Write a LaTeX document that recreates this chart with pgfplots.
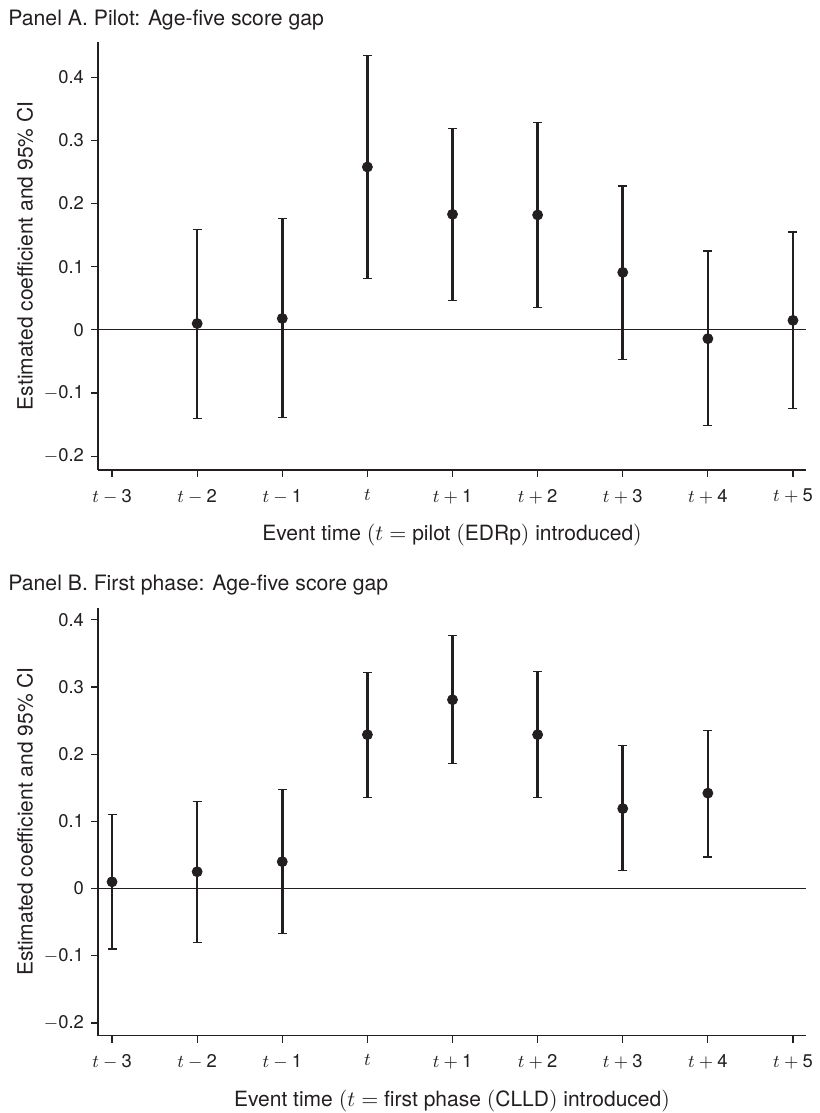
\documentclass[border=0pt]{standalone}
\usepackage{pgfplots}
\pgfplotsset{compat=1.18}
\usepackage{pgfplotstable}
\usepackage{fontspec}
\setmainfont{TeX Gyre Heros}
\definecolor{ink}{RGB}{35,31,32}

% event time, estimate, CI low, CI high
\pgfplotstableread{
x  y      lo      hi
-2  0.010 -0.141  0.159
-1  0.018 -0.139  0.176
0   0.258  0.081  0.435
1   0.183  0.046  0.319
2   0.182  0.036  0.328
3   0.091 -0.047  0.228
4  -0.014 -0.152  0.125
5   0.015 -0.124  0.155
}\pilot
\pgfplotstableread{
x  y      lo      hi
-3  0.010 -0.090  0.110
-2  0.025 -0.080  0.129
-1  0.040 -0.067  0.147
0   0.229  0.136  0.322
1   0.281  0.186  0.377
2   0.229  0.135  0.323
3   0.119  0.027  0.213
4   0.142  0.047  0.235
}\firstphase

\pgfplotsset{
  eventstyle/.style={
    scale only axis, anchor=south west,
    width=354pt, height=214pt,
    xmin=-3.165, xmax=5.153,
    axis x line*=bottom, axis y line*=left,
    axis line style={ink, line width=0.6pt},
    every tick/.style={ink, line width=0.6pt},
    tick align=outside, major tick length=3.5pt,
    xtick={-3,...,5},
    xticklabels={$t-\mbox{3}$,$t-\mbox{2}$,$t-\mbox{1}$,$t$,$t+\mbox{1}$,$t+\mbox{2}$,$t+\mbox{3}$,$t+\mbox{4}$,$t+\mbox{5}$},
    ytick={-0.2,-0.1,0,0.1,0.2,0.3,0.4},
    yticklabels={$-$0.2,$-$0.1,0,0.1,0.2,0.3,0.4},
    tick label style={font=\fontsize{9.2}{11}\selectfont, text=ink},
    xticklabel style={yshift=-2.5pt},
    label style={font=\fontsize{10.5}{12}\selectfont, text=ink},
    ylabel={Estimated coefficient and 95\% CI},
    ylabel style={at={(axis description cs:-0.103,0.5)}, anchor=center},
    xlabel style={at={(axis description cs:0.5,-0.152)}, anchor=center},
    clip=false,
  },
  ci/.style={
    ink, line width=1.3pt, only marks,
    mark=*, mark size=2.5pt, mark options={fill=ink, draw=ink, line width=0.4pt},
    error bars/.cd, y dir=both, y explicit,
    error bar style={ink, line width=1.3pt},
    error mark options={rotate=90, mark size=2.25pt, line width=0.6pt, ink},
  },
}

\begin{document}
\begin{tikzpicture}
\useasboundingbox (0,0) rectangle (409.5pt,556.5pt);

\node[anchor=west, font=\fontsize{10.6}{12}\selectfont, text=ink, inner sep=0pt] at (4pt,546.5pt) {Panel A. Pilot: Age-five score gap};
\begin{axis}[eventstyle, at={(49pt,321.5pt)}, ymin=-0.222, ymax=0.456,
  xlabel={Event time $(t=$ pilot $($EDRp$)$ introduced$)$}]
  \addplot[ink, line width=0.5pt] coordinates {(-3.165,0) (5.153,0)};
  \addplot[ci] table[x=x, y=y, y error plus expr=\thisrow{hi}-\thisrow{y}, y error minus expr=\thisrow{y}-\thisrow{lo}] {\pilot};
\end{axis}

\node[anchor=west, font=\fontsize{10.6}{12}\selectfont, text=ink, inner sep=0pt] at (4pt,264pt) {Panel B. First phase: Age-five score gap};
\begin{axis}[eventstyle, at={(49pt,38.65pt)}, ymin=-0.219, ymax=0.418,
  xlabel={Event time $(t=$ first phase $($CLLD$)$ introduced$)$}]
  \addplot[ink, line width=0.5pt] coordinates {(-3.165,0) (5.153,0)};
  \addplot[ci] table[x=x, y=y, y error plus expr=\thisrow{hi}-\thisrow{y}, y error minus expr=\thisrow{y}-\thisrow{lo}] {\firstphase};
\end{axis}
\end{tikzpicture}
\end{document}
